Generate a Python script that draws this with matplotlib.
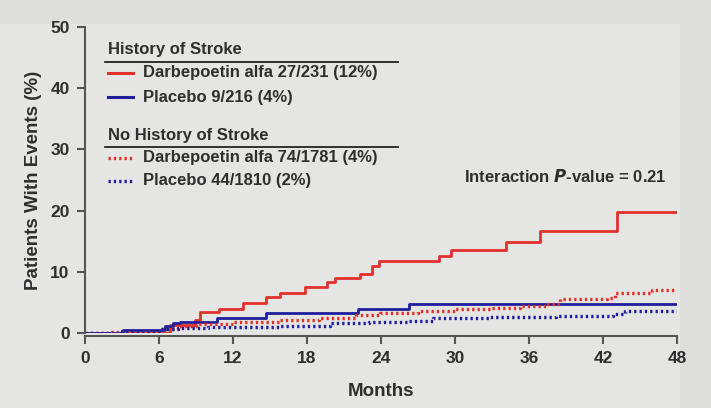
import matplotlib
matplotlib.use("Agg")
import matplotlib.pyplot as plt
from matplotlib.patches import Rectangle

plt.rcParams["font.family"] = ["Liberation Sans", "DejaVu Sans"]
plt.rcParams["font.weight"] = "bold"

# History of stroke, darbepoetin alfa (solid red)
hs_darbe_t = [0, 6.9, 8.9, 9.3, 10.9, 12.8, 14.7, 15.8, 17.8, 19.6, 20.3, 22.3, 23.3, 23.8,
              28.7, 29.7, 34.1, 36.9, 43.1, 48]
hs_darbe_y = [0, 1.3, 2.1, 3.5, 3.9, 4.9, 5.9, 6.5, 7.5, 8.4, 9.0, 9.6, 10.9, 11.7,
              12.6, 13.6, 14.9, 16.6, 19.7, 19.7]

# History of stroke, placebo (solid blue)
hs_plac_t = [0, 3.1, 6.5, 7.1, 7.7, 10.7, 14.7, 22.1, 26.3, 48]
hs_plac_y = [0, 0.5, 1.1, 1.6, 1.85, 2.4, 3.2, 4.0, 4.8, 4.8]

# No history of stroke, darbepoetin alfa (dotted red)
nh_darbe_t = [0, 2, 4, 6, 7.5, 9, 12, 15.8, 19, 22, 23.9, 27, 30, 32.8, 35.3, 37.4, 38.5,
              42.3, 43, 46, 48]
nh_darbe_y = [0, 0.2, 0.4, 0.6, 1.2, 1.5, 1.8, 2.1, 2.5, 2.9, 3.3, 3.6, 3.9, 4.1, 4.4, 4.8, 5.5,
              5.7, 6.6, 7.1, 7.1]

# No history of stroke, placebo (dotted blue)
nh_plac_t = [0, 3, 6, 7.5, 10, 13, 15.8, 19.9, 23, 26.1, 28.2, 32.8, 38.2, 42.8, 43.8, 48]
nh_plac_y = [0, 0.3, 0.6, 0.8, 0.9, 1.0, 1.1, 1.6, 1.8, 2.0, 2.4, 2.6, 2.8, 3.1, 3.6, 3.6]

x_ticks = [0, 6, 12, 18, 24, 30, 36, 42, 48]
y_ticks = [0, 10, 20, 30, 40, 50]

RED = "#e3302b"
BLUE = "#1f1f9e"
TXT = "#2e2e2e"
DOT = (0, (0.7, 0.9))
FS = 12

fig = plt.figure(figsize=(7.11, 4.08), dpi=100, facecolor="#dedfdc")
fig.patches.append(Rectangle((0, 0), 680 / 711, 0.94, transform=fig.transFigure,
                             facecolor="#e5e6e3", edgecolor="none", zorder=-10))
ax = fig.add_axes([85 / 711, (408 - 333) / 408, 592 / 711, 306 / 408])
ax.set_facecolor("none")

ax.step(hs_darbe_t, hs_darbe_y, where="post", color=RED, lw=2)
ax.step(hs_plac_t, hs_plac_y, where="post", color=BLUE, lw=2)
ax.step(nh_darbe_t, nh_darbe_y, where="post", color=RED, lw=2.4, linestyle=DOT)
ax.step(nh_plac_t, nh_plac_y, where="post", color=BLUE, lw=2.4, linestyle=DOT)

ax.set_xlim(0, 48)
ax.set_ylim(0, 50)
ax.set_xticks(x_ticks)
ax.set_yticks(y_ticks)
for s in ["top", "right"]:
    ax.spines[s].set_visible(False)
for s in ["left", "bottom"]:
    ax.spines[s].set_color("#555555")
    ax.spines[s].set_linewidth(1.5)
ax.spines["bottom"].set_position(("outward", 2))
ax.tick_params(length=6, width=1.5, color="#555555", labelsize=12.5, labelcolor=TXT, pad=5)
for lab in ax.get_xticklabels() + ax.get_yticklabels():
    lab.set_fontweight("bold")

ax.set_xlabel("Months", fontsize=13.5, fontweight="bold", color=TXT, labelpad=12)
ax.set_ylabel("Patients With Events (%)", fontsize=13.5, fontweight="bold", color=TXT, labelpad=6)

# hand-made legend
tr = ax.transAxes
groups = [
    ("History of Stroke", 0.925, 0.886,
     [(RED, "-", "Darbepoetin alfa 27/231 (12%)", 0.850),
      (BLUE, "-", "Placebo 9/216 (4%)", 0.771)]),
    ("No History of Stroke", 0.647, 0.608,
     [(RED, DOT, "Darbepoetin alfa 74/1781 (4%)", 0.572),
      (BLUE, DOT, "Placebo 44/1810 (2%)", 0.497)]),
]
for title, ty, uy, entries in groups:
    ax.text(0.039, ty, title, transform=tr, fontsize=FS, fontweight="bold",
            color=TXT, va="center", ha="left")
    ax.plot([0.034, 0.529], [uy, uy], transform=tr, color="#222222", lw=1.3, clip_on=False)
    for color, ls, label, ey in entries:
        ax.plot([0.039, 0.081], [ey, ey], transform=tr, color=color,
                lw=2.4 if ls == DOT else 2.2, linestyle=ls, clip_on=False)
        ax.text(0.098, ey, label, transform=tr, fontsize=FS, fontweight="bold",
                color=TXT, va="center", ha="left")

ax.text(0.983, 0.513, r"Interaction $\boldsymbol{P}$-value = 0.21", transform=tr,
        fontsize=FS, fontweight="bold", color=TXT, va="center", ha="right")

fig.savefig("out.png", dpi=100, facecolor=fig.get_facecolor())
